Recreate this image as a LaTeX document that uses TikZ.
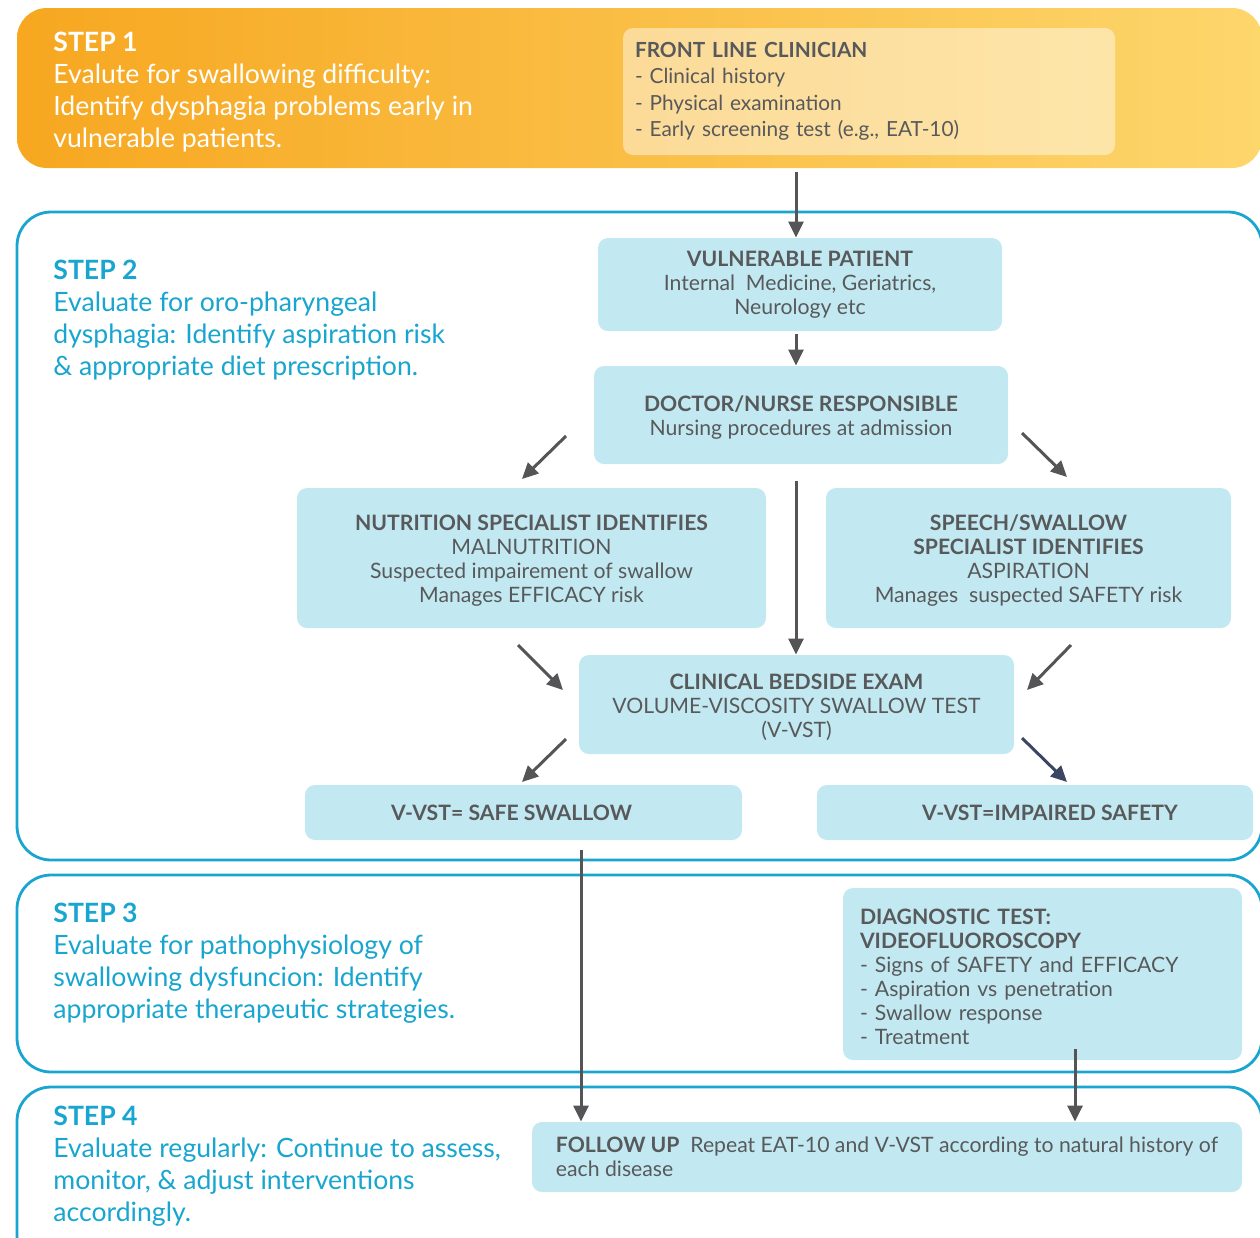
\documentclass[tikz,border=0pt]{standalone}
\usepackage{fontspec}
\setmainfont{Lato}
\usetikzlibrary{arrows.meta}

\definecolor{stepblue}{RGB}{24,165,207}
\definecolor{boxblue}{RGB}{194,233,241}
\definecolor{txtgray}{RGB}{88,89,91}
\definecolor{arrgray}{RGB}{85,85,87}
\definecolor{navy}{RGB}{58,70,98}
\definecolor{orangeL}{RGB}{247,167,32}
\definecolor{orangeR}{RGB}{253,214,108}

% taller first line, pushes box text a little down
\newcommand{\topstrut}{\rule{0pt}{10.5pt}}

\tikzset{
  panel/.style={draw=stepblue, line width=1.4pt, rounded corners=17pt},
  infobox/.style={fill=boxblue, rounded corners=5pt, text=txtgray, align=center,
    inner sep=0pt, font=\fontsize{10.6}{12}\selectfont},
  steptext/.style={anchor=north west, align=left, inner sep=0pt,
    font=\fontsize{13.3}{16}\selectfont},
  arr/.style={draw=arrgray, line width=1.5pt, -{Triangle[length=8pt,width=7.5pt]}}
}

\begin{document}
\begin{tikzpicture}[x=0.5pt, y=-0.5pt]
    \useasboundingbox (0,0) rectangle (1260,1238);

    % Step panels
    \shade[left color=orangeL, right color=orangeR, rounded corners=15pt] (17,8) rectangle (1262,168);
    \draw[panel] (17,212) rectangle (1262,860);
    \draw[panel] (17,875) rectangle (1262,1072);
    \draw[panel] (17,1087) rectangle (1262,1270);

    % Step descriptions
    \node[steptext, text=white] (s1) at (53,32) {\textbf{STEP 1}\\Evalute for swallowing difficulty:\\Identify dysphagia problems early in\\vulnerable patients.};
    \node[steptext, text=stepblue] (s2) at (53,260) {\textbf{STEP 2}\\Evaluate for oro-pharyngeal\\dysphagia: Identify aspiration risk\\\& appropriate diet prescription.};
    \node[steptext, text=stepblue] (s3) at (53,903) {\textbf{STEP 3}\\Evaluate for pathophysiology of\\swallowing dysfuncion: Identify\\appropriate therapeutic strategies.};
    \node[steptext, text=stepblue] (s4) at (53,1106) {\textbf{STEP 4}\\Evaluate regularly: Continue to assess,\\monitor, \& adjust interventions\\accordingly.};

    % Boxes
    \node[infobox, fill=white, fill opacity=0.45, text opacity=1, align=left, text width=234pt,
          minimum width=246pt, minimum height=63.5pt, font=\fontsize{10.4}{13.25}\selectfont]
          (flc) at (869,91.5) {\textbf{FRONT LINE CLINICIAN}\\- Clinical history\\- Physical examination\\- Early screening test (e.g., EAT-10)};
    \node[infobox, minimum width=202pt, minimum height=46.5pt] (vp) at (800,284.5)
          {\textbf{VULNERABLE PATIENT}\\Internal\ \ Medicine, Geriatrics,\\Neurology etc};
    \node[infobox, minimum width=207pt, minimum height=49pt] (doc) at (801,415)
          {\topstrut\textbf{DOCTOR/NURSE RESPONSIBLE}\\Nursing procedures at admission};
    \node[infobox, minimum width=234.5pt, minimum height=70pt] (nut) at (531.5,558)
          {\topstrut\textbf{NUTRITION SPECIALIST IDENTIFIES}\\MALNUTRITION\\Suspected impairement of swallow\\Manages EFFICACY risk};
    \node[infobox, minimum width=202.5pt, minimum height=70pt] (sps) at (1028.5,558)
          {\topstrut\textbf{SPEECH/SWALLOW}\\\textbf{SPECIALIST IDENTIFIES}\\ASPIRATION\\Manages\ \ suspected SAFETY risk};
    \node[infobox, minimum width=217.5pt, minimum height=49.5pt] (cbe) at (796.5,704.5)
          {\topstrut\textbf{CLINICAL BEDSIDE EXAM}\\VOLUME-VISCOSITY SWALLOW TEST\\(V-VST)};
    \node[infobox, minimum width=218.5pt, minimum height=27.5pt] (safe) at (523.5,812.5)
          {\textbf{V-VST= SAFE SWALLOW}\hspace*{12pt}};
    \node[infobox, minimum width=218pt, minimum height=27.5pt] (imp) at (1035,812.5)
          {\hspace*{15pt}\textbf{V-VST=IMPAIRED SAFETY}};
    \node[infobox, align=left, text width=182.5pt, minimum width=199.5pt, minimum height=86pt]
          (vfs) at (1042.5,974) {\topstrut\textbf{DIAGNOSTIC TEST:}\\\textbf{VIDEOFLUOROSCOPY}\\- Signs of SAFETY and EFFICACY\\- Aspiration vs penetration\\- Swallow response\\- Treatment};
    \node[infobox, align=left, minimum width=355pt, minimum height=35pt] (fup) at (887,1157)
          {\textbf{FOLLOW UP}\ \ Repeat EAT-10 and V-VST according to natural history of\\each disease};

    % Free ends of the arrows
    \coordinate (a1) at (796,172);
    \coordinate (n1) at (566,436);  \coordinate (n2) at (522,479);
    \coordinate (p1) at (1022,433); \coordinate (p2) at (1067,477);
    \coordinate (m1) at (796,481);
    \coordinate (c1) at (518,645);  \coordinate (c2) at (563,690);
    \coordinate (c3) at (1071,645); \coordinate (c4) at (1027,690);
    \coordinate (o1) at (566,739);  \coordinate (o2) at (522,782);
    \coordinate (o3) at (1022,738); \coordinate (o4) at (1067,782);
    \coordinate (l1) at (581,850);
    \coordinate (v1) at (1075,1049);

    % Arrows
    \draw[arr] (a1) -- (a1 |- vp.north);
    \draw[arr, shorten <=1.5pt] (a1 |- vp.south) -- (a1 |- doc.north);
    \draw[arr] (n1) -- (n2);
    \draw[arr] (p1) -- (p2);
    \draw[arr] (m1) -- (m1 |- cbe.north);
    \draw[arr] (c1) -- (c2);
    \draw[arr] (c3) -- (c4);
    \draw[arr] (o1) -- (o2);
    \draw[arr, draw=navy, fill=navy] (o3) -- (o4);
    \draw[arr] (l1) -- (l1 |- fup.north);
    \draw[arr] (v1) -- (v1 |- fup.north);
\end{tikzpicture}
\end{document}
